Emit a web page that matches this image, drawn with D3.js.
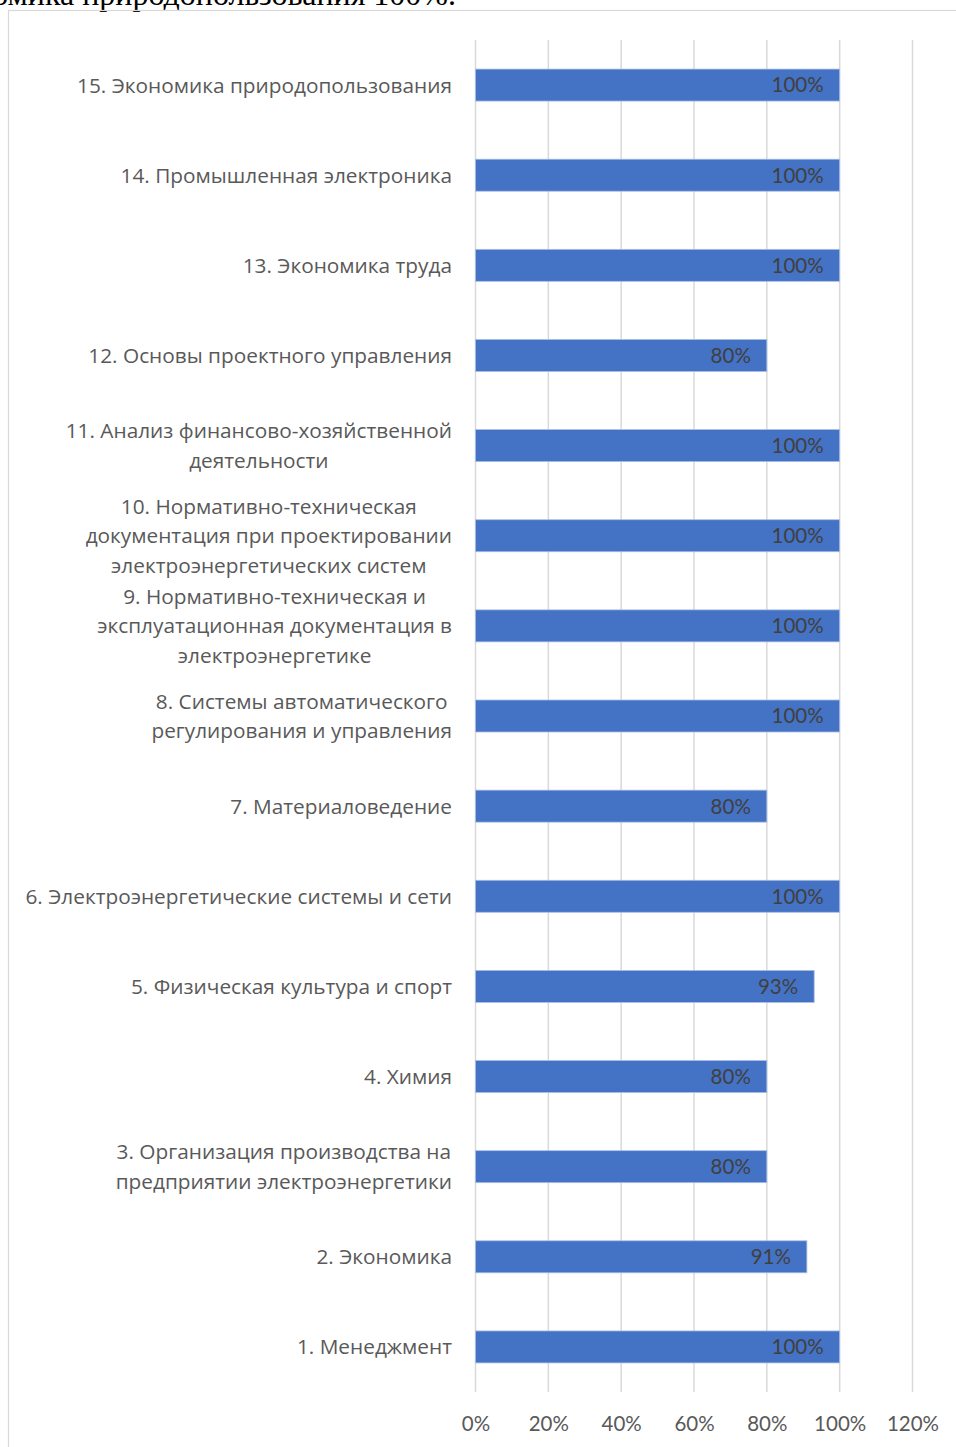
<!DOCTYPE html>
<html>
<head>
<meta charset="utf-8">
<script src="https://cdn.jsdelivr.net/npm/d3@7/dist/d3.min.js"></script>
<style>
  body { margin: 0; background: #fff; }
  svg text { font-family: Lato, "Open Sans", sans-serif; }
</style>
</head>
<body>
<svg id="chart" width="956" height="1447"></svg>
<script>
const width = 956, height = 1447;

// categories, bottom to top as in the picture (1 at the bottom)
const labels = [
  ["1. Менеджмент"],
  ["2. Экономика"],
  ["3. Организация производства на", "предприятии электроэнергетики"],
  ["4. Химия"],
  ["5. Физическая культура и спорт"],
  ["6. Электроэнергетические системы и сети"],
  ["7. Материаловедение"],
  ["8. Системы автоматического", "регулирования и управления"],
  ["9. Нормативно-техническая и", "эксплуатационная документация в", "электроэнергетике"],
  ["10. Нормативно-техническая", "документация при проектировании", "электроэнергетических систем"],
  ["11. Анализ финансово-хозяйственной", "деятельности"],
  ["12. Основы проектного управления"],
  ["13. Экономика труда"],
  ["14. Промышленная электроника"],
  ["15. Экономика природопользования"]
];
const values = [1.00, 0.91, 0.80, 0.80, 0.93, 1.00, 0.80, 1.00, 1.00, 1.00, 1.00, 0.80, 1.00, 1.00, 1.00];
const ticks = [0, 0.2, 0.4, 0.6, 0.8, 1.0, 1.2];

const svg = d3.select("#chart");

// caption cut off at the top of the page
svg.append("text")
  .attr("x", 456).attr("y", 5)
  .attr("text-anchor", "end")
  .style("font-family", "'Liberation Serif', serif")
  .style("font-size", "32px")
  .style("fill", "#000")
  .text("Экономика природопользования 100%.");

// chart frame
svg.append("rect")
  .attr("x", 8.5).attr("y", 10.5)
  .attr("width", 1000).attr("height", 1500)
  .attr("fill", "none")
  .attr("stroke", "#d9d9d9")
  .attr("stroke-width", 1.2);

const x = d3.scaleLinear().domain([0, 1.2]).range([475.5, 912.5]);
const ids = d3.range(labels.length);
const y = d3.scaleBand()
  .domain(ids.slice().reverse())
  .range([40, 1392])
  .paddingInner(0.645)
  .paddingOuter(0.3225);

// gridlines
svg.append("g")
  .selectAll("line")
  .data(ticks)
  .join("line")
    .attr("x1", d => x(d)).attr("x2", d => x(d))
    .attr("y1", 40).attr("y2", 1392)
    .attr("stroke", "#d9d9d9")
    .attr("stroke-width", 1.5);

// x axis labels
const xAxis = d3.axisBottom(x)
  .tickValues(ticks)
  .tickSize(0)
  .tickPadding(0)
  .tickFormat(d3.format(".0%"));

svg.append("g")
  .attr("transform", "translate(0,1416)")
  .call(xAxis)
  .call(g => g.select(".domain").remove())
  .selectAll("text")
    .style("font-family", "Lato, sans-serif")
    .style("font-size", "20.5px")
    .style("fill", "#595959");

// bars
svg.append("g")
  .selectAll("rect")
  .data(ids)
  .join("rect")
    .attr("x", x(0))
    .attr("y", i => y(i))
    .attr("width", i => x(values[i]) - x(0))
    .attr("height", y.bandwidth())
    .attr("fill", "#4472c4")
    .attr("stroke", "#a9bfe6")
    .attr("stroke-width", 0.8);

// value labels inside the end of the bars
svg.append("g")
  .selectAll("text")
  .data(ids)
  .join("text")
    .attr("x", i => x(values[i]) - 16)
    .attr("y", i => y(i) + y.bandwidth() / 2)
    .attr("dy", "0.36em")
    .attr("text-anchor", "end")
    .style("font-size", "20.5px")
    .style("fill", "#404040")
    .text(i => d3.format(".0%")(values[i]));

// category labels, wrapped lines centred in a block right-aligned to the axis
const lineH = 29.7;
const labelRight = 452;
const lab = svg.append("g");
ids.forEach(i => {
  const lines = labels[i];
  const cy = y(i) + y.bandwidth() / 2;
  const g = lab.append("g");
  const texts = g.selectAll("text")
    .data(lines)
    .join("text")
      .attr("y", (d, k) => cy + (k - (lines.length - 1) / 2) * lineH)
      .attr("dy", "0.36em")
      .attr("text-anchor", "middle")
      .style("font-family", "'Open Sans', sans-serif")
      .style("font-size", "20.8px")
      .style("fill", "#595959")
      .text(d => d);
  let maxW = 0;
  texts.each(function () { maxW = Math.max(maxW, this.getComputedTextLength()); });
  texts.attr("x", labelRight - maxW / 2);
});
</script>
</body>
</html>
